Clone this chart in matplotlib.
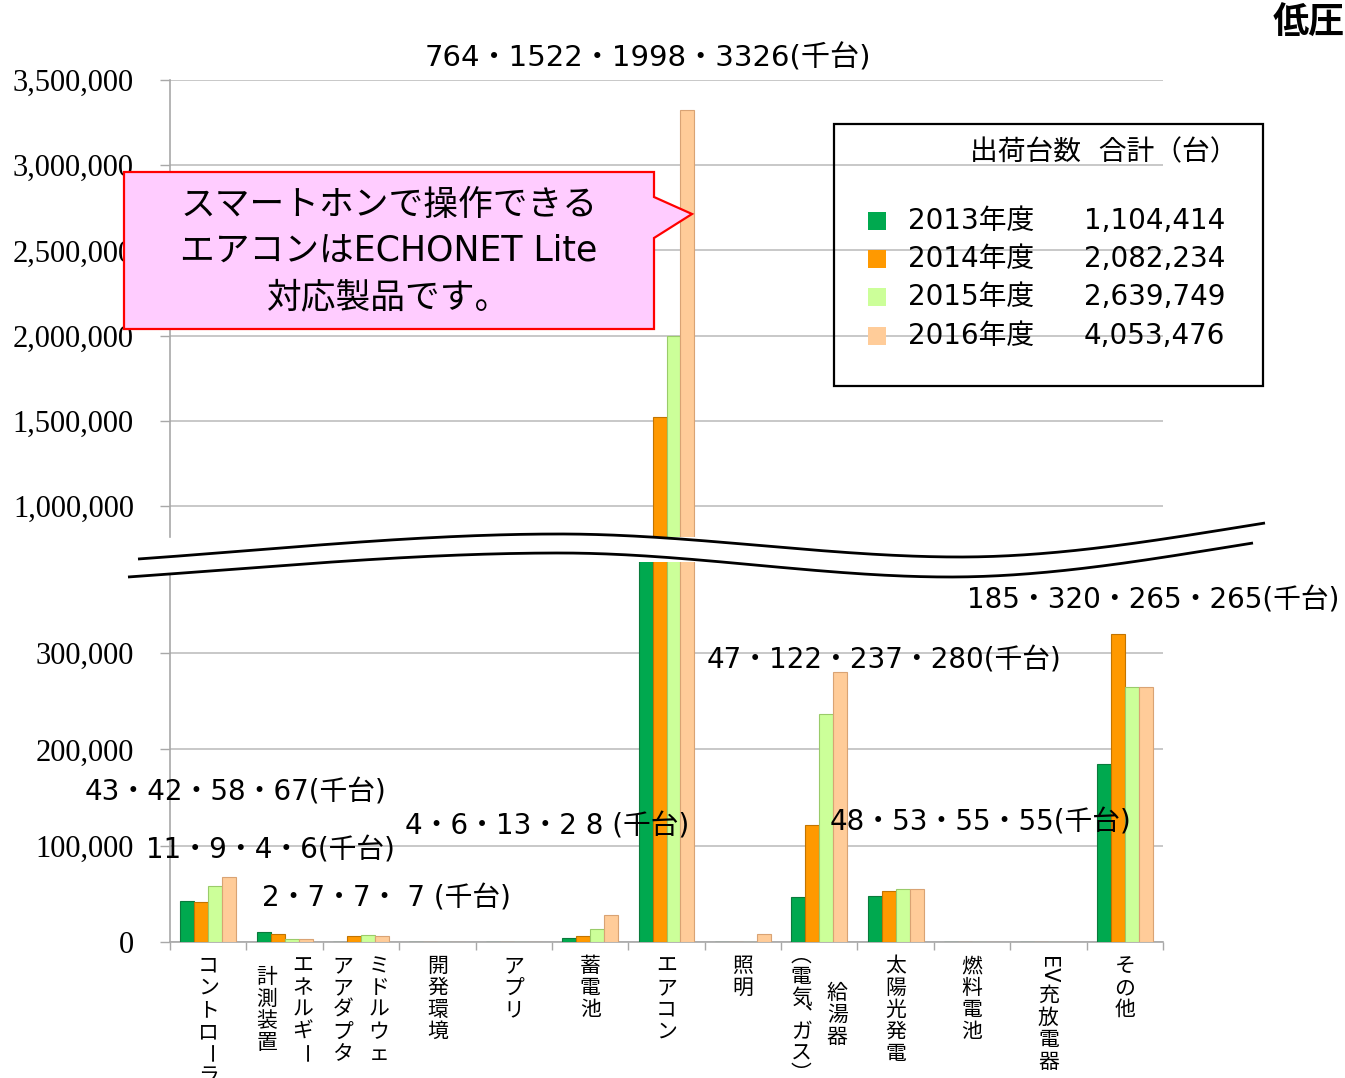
import matplotlib
matplotlib.use('Agg')
import matplotlib.pyplot as plt
import matplotlib.transforms as mtransforms
from matplotlib.patches import Polygon, Rectangle
import numpy as np

plt.rcParams['font.family'] = ['DejaVu Sans', 'Noto Sans CJK JP']

# data (units: 台)
categories = ['コントローラ', 'エネルギー計測装置', 'ミドルウェアアダプタ', '開発環境', 'アプリ',
              '蓄電池', 'エアコン', '照明', '給湯器（電気、ガス）', '太陽光発電', '燃料電池',
              'EV充放電器', 'その他']
# vertical label columns, first column is drawn on the right
label_columns = [['コントローラ'], ['エネルギー', '計測装置'], ['ミドルウェ', 'アアダプタ'],
                 ['開発環境'], ['アプリ'], ['蓄電池'], ['エアコン'], ['照明'],
                 ['給湯器', '︵電気︑ガス︶'], ['太陽光発電'], ['燃料電池'], ['EV充放電器'], ['その他']]
years = ['2013年度', '2014年度', '2015年度', '2016年度']
totals = [1104414, 2082234, 2639749, 4053476]
v2013 = [43000, 10000, 500, 0, 0, 4000, 764000, 0, 47000, 48000, 0, 0, 185000]
v2014 = [42000, 8000, 6500, 0, 0, 6000, 1522000, 0, 122000, 53000, 0, 0, 320000]
v2015 = [58000, 3500, 7000, 0, 0, 13000, 1998000, 0, 237000, 55000, 0, 0, 265000]
v2016 = [67000, 3000, 6500, 0, 0, 28000, 3326000, 8000, 280000, 55000, 0, 0, 265000]
series = [v2013, v2014, v2015, v2016]
colors = ['#00A94F', '#FF9900', '#CCFF99', '#FFCC99']
edges = ['#0A7A3C', '#C27400', '#9ACB6A', '#D9A374']

# data labels (text, anchor x px, center y px)
label_texts = ['764・1522・1998・3326(千台)', '43・42・58・67(千台)', '11・9・4・6(千台)',
               '2・7・7・ 7 (千台)', '4・6・13・2 8 (千台)', '47・122・237・280(千台)',
               '48・53・55・55(千台)', '185・320・265・265(千台)']
label_xy = [(648, 58), (85, 793), (146, 851), (262, 898), (405, 827), (707, 660),
            (830, 822), (967, 601)]

W, H = 1345, 1078
fig = plt.figure(figsize=(W / 100, H / 100), dpi=100)

L, R = 170, 1163
def box(top, bottom):
    return [L / W, 1 - bottom / H, (R - L) / W, (bottom - top) / H]

ax_top = fig.add_axes(box(80, 537))
ax_bot = fig.add_axes(box(562, 942))

x = np.arange(len(categories))
bw = 0.183
grid_c = '#BFBFBF'
for ax in (ax_top, ax_bot):
    for k, vals in enumerate(series):
        ax.bar(x + (k - 1.5) * bw, vals, bw, color=colors[k], edgecolor=edges[k],
               linewidth=0.8, zorder=3)
    ax.set_xlim(-0.5, len(categories) - 0.5)
    ax.grid(axis='y', color=grid_c, linewidth=1.2, zorder=0)
    ax.set_axisbelow(True)
    for s in ('top', 'right'):
        ax.spines[s].set_visible(False)
    ax.spines['left'].set_color('#A8A8A8')
    ax.spines['left'].set_linewidth(1.2)
    ax.tick_params(axis='y', length=7, color='#A8A8A8', width=1, pad=19,
                   labelsize=22, labelfontfamily='Liberation Serif')
    ax.yaxis.set_major_formatter(matplotlib.ticker.FuncFormatter(lambda v, p: '{:,.0f}'.format(v)))

ax_top.set_ylim(818000, 3500000)
ax_top.set_yticks(np.arange(1000000, 3500001, 500000))
ax_top.spines['bottom'].set_visible(False)
ax_top.set_xticks([])

ax_bot.set_ylim(0, 394600)
ax_bot.set_yticks([0, 100000, 200000, 300000])
ax_bot.spines['bottom'].set_color('#A8A8A8')
ax_bot.spines['bottom'].set_linewidth(1.2)
ax_bot.set_xticks(np.arange(-0.5, len(categories), 1))
ax_bot.set_xticklabels([])
ax_bot.tick_params(axis='x', length=6, color='#A8A8A8', width=1)

# overlay in pixel coordinates
ov = fig.add_axes([0, 0, 1, 1])
ov.set_xlim(0, W)
ov.set_ylim(H, 0)
ov.axis('off')
ov.set_zorder(10)
ov.patch.set_alpha(0)

# axis break band (piecewise cubic hermite through key points)
def hermite(px, py, sl, n=120):
    xs, ys = [], []
    for a in range(len(px) - 1):
        h = px[a + 1] - px[a]
        t = np.linspace(0, 1, n)
        h00 = 2 * t**3 - 3 * t**2 + 1
        h10 = t**3 - 2 * t**2 + t
        h01 = -2 * t**3 + 3 * t**2
        h11 = t**3 - t**2
        xs.append(px[a] + t * h)
        ys.append(h00 * py[a] + h10 * h * sl[a] + h01 * py[a + 1] + h11 * h * sl[a + 1])
    return np.concatenate(xs), np.concatenate(ys)

xu, yu = hermite([138, 560, 960, 1265], [559, 534, 557, 523], [-0.07, 0, 0, -0.16])
xl, yl = hermite([128, 560, 950, 1253], [577, 553, 577, 543], [-0.07, 0, 0, -0.16])
band = np.vstack([np.column_stack([xu, yu]), np.column_stack([xl[::-1], yl[::-1]])])
ov.add_patch(Polygon(band, closed=True, facecolor='white', edgecolor='none', zorder=1))
ov.plot(xu, yu, color='black', lw=2, zorder=2, solid_capstyle='butt')
ov.plot(xl, yl, color='black', lw=2, zorder=2, solid_capstyle='butt')

# callout
call = [(124, 172), (654, 172), (654, 197), (692, 214), (654, 238), (654, 329), (124, 329)]
ov.add_patch(Polygon(call, closed=True, facecolor='#FFCCFF', edgecolor='#FF0000', lw=1.6, zorder=3))
for i, line in enumerate(['スマートホンで操作できる', 'エアコンはECHONET Lite', '対応製品です。']):
    ov.text(389, 205 + 46 * i, line, ha='center', va='center', fontsize=25, zorder=4)

# legend
ov.add_patch(Rectangle((834, 124), 429, 262, facecolor='none', edgecolor='black', lw=1.6, zorder=3))
ov.text(1238, 152, '出荷台数  合計（台）', ha='right', va='center', fontsize=20, zorder=4)
for k in range(4):
    yy = 221 + 38.2 * k
    ov.add_patch(Rectangle((868, yy - 9), 18, 18, facecolor=colors[k], edgecolor='none', zorder=4))
    ov.text(908, yy, years[k], ha='left', va='center', fontsize=20, zorder=4)
    ov.text(1225, yy, '{:,}'.format(totals[k]), ha='right', va='center', fontsize=20, zorder=4)

# data labels
for k, (t, (tx, ty)) in enumerate(zip(label_texts, label_xy)):
    ov.text(tx, ty, t, ha='center' if k == 0 else 'left', va='center',
            fontsize=21 if k == 0 else 20, zorder=4)

# vertical category labels
trans = mtransforms.blended_transform_factory(ax_bot.transData, ov.transData)
px_per_cat = (R - L) / len(categories)

def tokens(col):
    if col.startswith('EV'):
        return ['EV'] + list(col[2:])
    return list(col)

def tok_h(t, pitch):
    if t == 'EV':
        return 30
    if t in '︵︶':
        return 11
    if t == '︑':
        return 14
    return pitch

for i, cols in enumerate(label_columns):
    toks = [tokens(c) for c in cols]
    pitches = [21 if '︵' in c else 22 for c in cols]
    lens = [sum(tok_h(t, p) for t in tk) for tk, p in zip(toks, pitches)]
    longest = max(lens)
    n = len(cols)
    for j, tk in enumerate(toks):
        dx = 0 if n == 1 else (18 if j == 0 else -18)
        y = 955 + (longest - lens[j]) / 2
        for t in tk:
            h = tok_h(t, pitches[j])
            cx = i + dx / px_per_cat
            cy = y + h / 2
            rot = -90 if t in ('ー', 'EV') else 0
            if t == '︵':
                cy -= 5
            if t == '︶':
                cy += 5
            fam = ['DejaVu Sans'] if t == 'EV' else ['Noto Sans CJK JP']
            ov.text(cx, cy, t, transform=trans, ha='center', va='center', rotation=rot,
                    rotation_mode='anchor', fontsize=15, family=fam, zorder=4)
            y += h

fig.text(1273 / W, 1 - 23 / H, '低圧', ha='left', va='center', fontsize=26,
         fontweight='bold', family=['Noto Sans CJK JP'])

fig.savefig('out.png', dpi=100)
